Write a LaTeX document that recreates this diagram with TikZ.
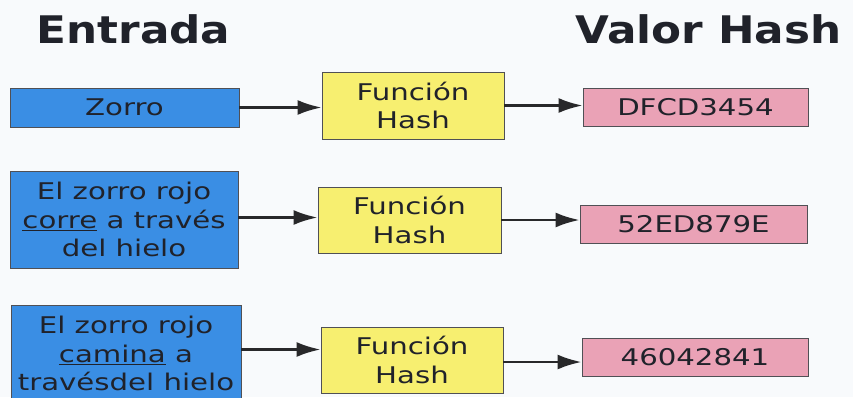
\documentclass[tikz,border=0pt]{standalone}
\usepackage{fontspec}
\setmainfont[FakeStretch=1.27]{DejaVu Sans}
\newfontfamily\hfont[FakeStretch=1.15]{DejaVu Sans Bold}
\usetikzlibrary{arrows.meta}
\definecolor{bgc}{RGB}{248,250,252}
\definecolor{inblue}{RGB}{58,142,228}
\definecolor{hyel}{RGB}{247,239,112}
\definecolor{opink}{RGB}{234,162,182}
\definecolor{edgec}{RGB}{80,80,85}
\definecolor{txtc}{RGB}{32,34,42}
\definecolor{arrc}{RGB}{40,40,42}
\tikzset{
  box/.style={draw=edgec, line width=0.9pt, inner sep=0pt, align=center,
    text=txtc, font=\fontsize{23}{28.5}\selectfont},
  inbox/.style={box, fill=inblue},
  hbox/.style={box, fill=hyel},
  obox/.style={box, fill=opink},
  head/.style={inner sep=0pt, text=txtc, font=\hfont\fontsize{38}{40}\selectfont},
  conn/.style={draw=arrc, line width=2.6pt, -{Latex[length=24pt,width=15pt]}}
}
\begin{document}
\begin{tikzpicture}[x=1pt,y=-1pt]
\fill[bgc] (0,0) rectangle (853,397);
\useasboundingbox (0,0) rectangle (853,397);
\clip (0,0) rectangle (853,397);
\node[head] (t1) at (133.5,29) {Entrada};
\node[head] (t2) at (708.5,29) {Valor Hash};
% inputs
\node[inbox, minimum width=229pt, minimum height=39pt] (in1) at (124.5,107.5) {Zorro};
\node[inbox, minimum width=228pt, minimum height=97pt] (in2) at (124,219.5) {El zorro rojo\\\underline{corre} a través\\del hielo};
\node[inbox, minimum width=230pt, minimum height=97pt] (in3) at (126,353.5) {El zorro rojo\\\underline{camina} a\\travésdel hielo};
% hash functions
\node[hbox, minimum width=182pt, minimum height=67pt] (h1) at (413,105.5) {Función\\Hash};
\node[hbox, minimum width=183pt, minimum height=66pt] (h2) at (409.5,220) {Función\\Hash};
\node[hbox, minimum width=182pt, minimum height=66pt] (h3) at (412,360) {Función\\Hash};
% outputs
\node[obox, minimum width=225pt, minimum height=38pt] (o1) at (695.5,107) {DFCD3454};
\node[obox, minimum width=227pt, minimum height=38pt] (o2) at (693.5,224) {52ED879E};
\node[obox, minimum width=226pt, minimum height=38pt] (o3) at (695,357) {46042841};
% connectors
\draw[conn] (in1.east) -- (in1.east -| h1.west);
\draw[conn] (h1.east) -- (h1.east -| o1.west);
\draw[conn] ([yshift=2pt]in2.east) -- ([yshift=2pt]in2.east -| h2.west);
\draw[conn] (h2.east) -- (h2.east -| o2.west);
\draw[conn] ([yshift=4pt]in3.east) -- ([yshift=4pt]in3.east -| h3.west);
\draw[conn] ([yshift=-2pt]h3.east) -- ([yshift=-2pt]h3.east -| o3.west);
\end{tikzpicture}
\end{document}
